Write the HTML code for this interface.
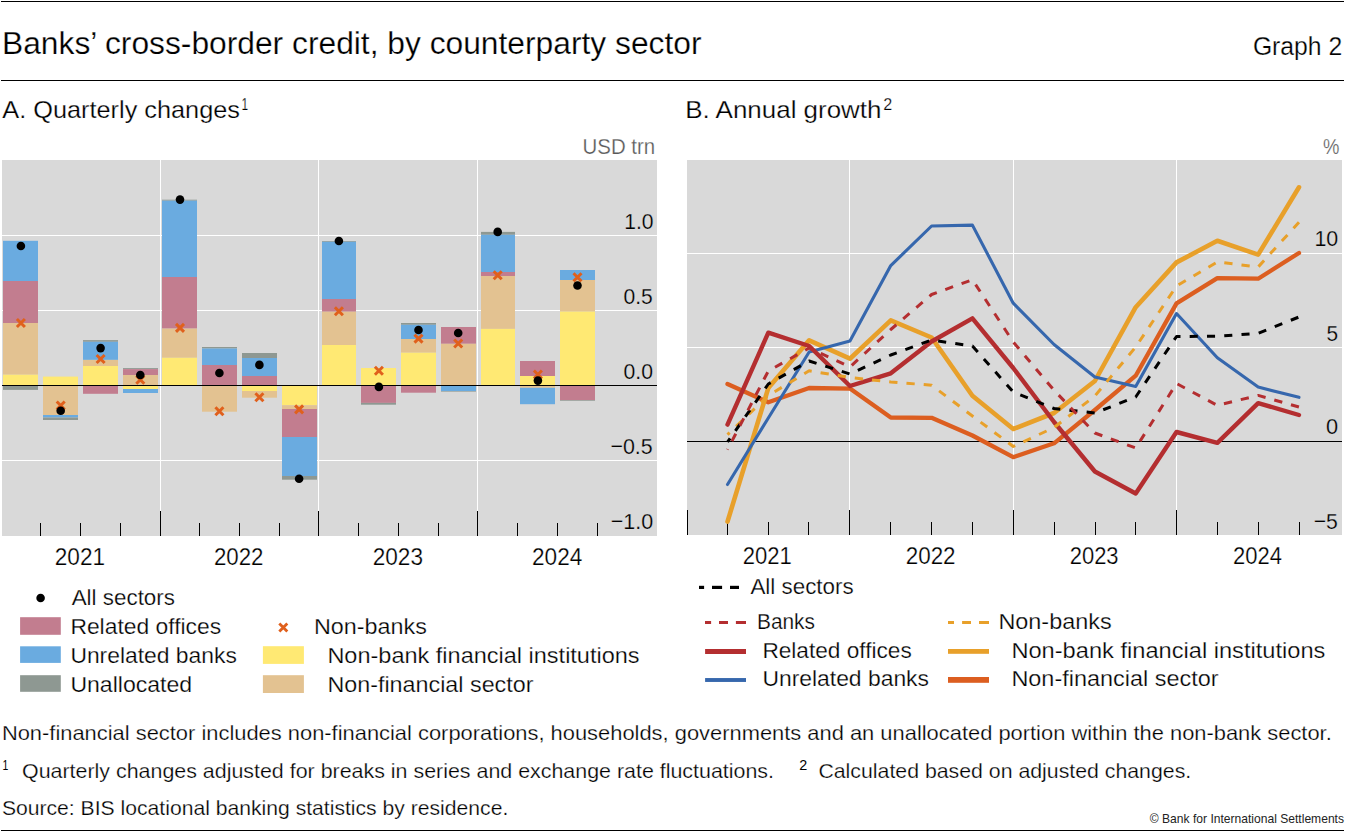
<!DOCTYPE html>
<html><head><meta charset="utf-8"><style>
html,body{margin:0;padding:0;background:#fff;width:1345px;height:832px;overflow:hidden}
svg{display:block;font-family:"Liberation Sans", sans-serif}
</style></head><body>
<svg width="1345" height="832" viewBox="0 0 1345 832">
<rect x="1" y="1" width="1343" height="1" fill="#000"/>
<text x="2.00" y="53.70" font-size="31" fill="#000" stroke="#fff" stroke-width="0.25" textLength="699.50" lengthAdjust="spacingAndGlyphs" >Banks’ cross-border credit, by counterparty sector</text>
<text x="1252.90" y="55.00" font-size="26.5" fill="#000" stroke="#fff" stroke-width="0.25" textLength="89.30" lengthAdjust="spacingAndGlyphs" >Graph 2</text>
<rect x="1" y="80" width="1343" height="1" fill="#000"/>
<text x="2.30" y="118.40" font-size="24.6" fill="#000" stroke="#fff" stroke-width="0.25" textLength="237.70" lengthAdjust="spacingAndGlyphs" >A. Quarterly changes</text>
<text x="241.60" y="110.00" font-size="16.7" fill="#000" stroke="#fff" stroke-width="0.25" textLength="6.60" lengthAdjust="spacingAndGlyphs" >1</text>
<text x="685.30" y="117.80" font-size="24.6" fill="#000" stroke="#fff" stroke-width="0.25" textLength="196.20" lengthAdjust="spacingAndGlyphs" >B. Annual growth</text>
<text x="883.30" y="110.00" font-size="16.7" fill="#000" stroke="#fff" stroke-width="0.25" textLength="9.00" lengthAdjust="spacingAndGlyphs" >2</text>
<rect x="2" y="160" width="655" height="376" fill="#d9d9d9"/>
<rect x="2" y="235" width="655" height="1" fill="#fff"/>
<rect x="2" y="310" width="655" height="1" fill="#fff"/>
<rect x="2" y="460" width="655" height="1" fill="#fff"/>
<rect x="160" y="160" width="1" height="376" fill="#fff"/>
<rect x="318" y="160" width="1" height="376" fill="#fff"/>
<rect x="477" y="160" width="1" height="376" fill="#fff"/>
<rect x="3" y="240.8" width="35" height="40.20" fill="#6aabe0"/>
<rect x="3" y="281" width="35" height="42.00" fill="#c27d8f"/>
<rect x="3" y="323" width="35" height="51.70" fill="#e3c291"/>
<rect x="3" y="374.7" width="35" height="10.80" fill="#ffe973"/>
<rect x="3" y="385.5" width="35" height="4.40" fill="#8e9892"/>
<rect x="43" y="376.6" width="35" height="8.90" fill="#ffe973"/>
<rect x="43" y="385.5" width="35" height="29.50" fill="#e3c291"/>
<rect x="43" y="415" width="35" height="2.50" fill="#6aabe0"/>
<rect x="43" y="417.5" width="35" height="2.50" fill="#8e9892"/>
<rect x="83" y="340.1" width="35" height="1.70" fill="#8e9892"/>
<rect x="83" y="341.8" width="35" height="18.10" fill="#6aabe0"/>
<rect x="83" y="359.9" width="35" height="6.10" fill="#e3c291"/>
<rect x="83" y="366" width="35" height="19.50" fill="#ffe973"/>
<rect x="83" y="385.5" width="35" height="8.30" fill="#c27d8f"/>
<rect x="123" y="368.1" width="35" height="1.00" fill="#8e9892"/>
<rect x="123" y="369.1" width="35" height="5.90" fill="#c27d8f"/>
<rect x="123" y="375" width="35" height="10.50" fill="#e3c291"/>
<rect x="123" y="385.5" width="35" height="3.50" fill="#ffe973"/>
<rect x="123" y="389" width="35" height="4.00" fill="#6aabe0"/>
<rect x="162" y="199.7" width="35" height="1.00" fill="#8e9892"/>
<rect x="162" y="200.7" width="35" height="76.30" fill="#6aabe0"/>
<rect x="162" y="277" width="35" height="51.60" fill="#c27d8f"/>
<rect x="162" y="328.6" width="35" height="29.20" fill="#e3c291"/>
<rect x="162" y="357.8" width="35" height="27.70" fill="#ffe973"/>
<rect x="202" y="347" width="35" height="1.50" fill="#8e9892"/>
<rect x="202" y="348.5" width="35" height="16.50" fill="#6aabe0"/>
<rect x="202" y="365" width="35" height="20.50" fill="#c27d8f"/>
<rect x="202" y="385.5" width="35" height="26.20" fill="#e3c291"/>
<rect x="242" y="353" width="35" height="5.00" fill="#8e9892"/>
<rect x="242" y="358" width="35" height="18.00" fill="#6aabe0"/>
<rect x="242" y="376" width="35" height="9.50" fill="#c27d8f"/>
<rect x="242" y="385.5" width="35" height="5.50" fill="#ffe973"/>
<rect x="242" y="391" width="35" height="6.70" fill="#e3c291"/>
<rect x="282" y="385.5" width="35" height="19.70" fill="#ffe973"/>
<rect x="282" y="405.2" width="35" height="3.80" fill="#e3c291"/>
<rect x="282" y="409" width="35" height="28.00" fill="#c27d8f"/>
<rect x="282" y="437" width="35" height="39.00" fill="#6aabe0"/>
<rect x="282" y="476" width="35" height="3.70" fill="#8e9892"/>
<rect x="322" y="241" width="34" height="0.80" fill="#8e9892"/>
<rect x="322" y="241.8" width="34" height="57.20" fill="#6aabe0"/>
<rect x="322" y="299" width="34" height="12.70" fill="#c27d8f"/>
<rect x="322" y="311.7" width="34" height="33.30" fill="#e3c291"/>
<rect x="322" y="345" width="34" height="40.50" fill="#ffe973"/>
<rect x="361" y="368" width="35" height="17.50" fill="#ffe973"/>
<rect x="361" y="385.5" width="35" height="17.40" fill="#c27d8f"/>
<rect x="361" y="402.9" width="35" height="1.80" fill="#8e9892"/>
<rect x="401" y="323" width="35" height="1.80" fill="#8e9892"/>
<rect x="401" y="324.8" width="35" height="14.20" fill="#6aabe0"/>
<rect x="401" y="339" width="35" height="13.70" fill="#e3c291"/>
<rect x="401" y="352.7" width="35" height="32.80" fill="#ffe973"/>
<rect x="401" y="385.5" width="35" height="7.20" fill="#c27d8f"/>
<rect x="441" y="327" width="35" height="16.80" fill="#c27d8f"/>
<rect x="441" y="343.8" width="35" height="41.70" fill="#e3c291"/>
<rect x="441" y="385.5" width="35" height="5.50" fill="#6aabe0"/>
<rect x="441" y="391" width="35" height="0.60" fill="#8e9892"/>
<rect x="481" y="231.9" width="34" height="2.90" fill="#8e9892"/>
<rect x="481" y="234.8" width="34" height="37.20" fill="#6aabe0"/>
<rect x="481" y="272" width="34" height="4.00" fill="#c27d8f"/>
<rect x="481" y="276" width="34" height="52.90" fill="#e3c291"/>
<rect x="481" y="328.9" width="34" height="56.60" fill="#ffe973"/>
<rect x="520" y="361" width="35" height="15.00" fill="#c27d8f"/>
<rect x="520" y="376" width="35" height="9.50" fill="#ffe973"/>
<rect x="520" y="385.5" width="35" height="2.30" fill="#e3c291"/>
<rect x="520" y="387.8" width="35" height="16.40" fill="#6aabe0"/>
<rect x="560" y="270" width="35" height="10.00" fill="#6aabe0"/>
<rect x="560" y="280" width="35" height="31.60" fill="#e3c291"/>
<rect x="560" y="311.6" width="35" height="73.90" fill="#ffe973"/>
<rect x="560" y="385.5" width="35" height="14.60" fill="#c27d8f"/>
<rect x="560" y="400.1" width="35" height="0.70" fill="#8e9892"/>
<rect x="2" y="385" width="655" height="1" fill="#000"/>
<path d="M16.90,319.00L24.90,327.00M24.90,319.00L16.90,327.00" stroke="#e0601c" stroke-width="3.0" fill="none"/>
<path d="M56.70,401.50L64.70,409.50M64.70,401.50L56.70,409.50" stroke="#e0601c" stroke-width="3.0" fill="none"/>
<path d="M96.60,355.00L104.60,363.00M104.60,355.00L96.60,363.00" stroke="#e0601c" stroke-width="3.0" fill="none"/>
<path d="M136.30,375.70L144.30,383.70M144.30,375.70L136.30,383.70" stroke="#e0601c" stroke-width="3.0" fill="none"/>
<path d="M176.00,323.90L184.00,331.90M184.00,323.90L176.00,331.90" stroke="#e0601c" stroke-width="3.0" fill="none"/>
<path d="M215.40,407.20L223.40,415.20M223.40,407.20L215.40,415.20" stroke="#e0601c" stroke-width="3.0" fill="none"/>
<path d="M255.40,393.30L263.40,401.30M263.40,393.30L255.40,401.30" stroke="#e0601c" stroke-width="3.0" fill="none"/>
<path d="M295.10,405.40L303.10,413.40M303.10,405.40L295.10,413.40" stroke="#e0601c" stroke-width="3.0" fill="none"/>
<path d="M334.90,307.30L342.90,315.30M342.90,307.30L334.90,315.30" stroke="#e0601c" stroke-width="3.0" fill="none"/>
<path d="M374.90,366.70L382.90,374.70M382.90,366.70L374.90,374.70" stroke="#e0601c" stroke-width="3.0" fill="none"/>
<path d="M414.50,334.60L422.50,342.60M422.50,334.60L414.50,342.60" stroke="#e0601c" stroke-width="3.0" fill="none"/>
<path d="M454.20,339.50L462.20,347.50M462.20,339.50L454.20,347.50" stroke="#e0601c" stroke-width="3.0" fill="none"/>
<path d="M493.70,271.30L501.70,279.30M501.70,271.30L493.70,279.30" stroke="#e0601c" stroke-width="3.0" fill="none"/>
<path d="M533.90,370.50L541.90,378.50M541.90,370.50L533.90,378.50" stroke="#e0601c" stroke-width="3.0" fill="none"/>
<path d="M573.50,273.30L581.50,281.30M581.50,273.30L573.50,281.30" stroke="#e0601c" stroke-width="3.0" fill="none"/>
<circle cx="20.9" cy="246" r="4.3" fill="#000"/>
<circle cx="60.7" cy="410.8" r="4.3" fill="#000"/>
<circle cx="100.6" cy="348.1" r="4.3" fill="#000"/>
<circle cx="140.3" cy="375" r="4.3" fill="#000"/>
<circle cx="180" cy="199.6" r="4.3" fill="#000"/>
<circle cx="219.4" cy="373" r="4.3" fill="#000"/>
<circle cx="259.4" cy="364.9" r="4.3" fill="#000"/>
<circle cx="299.1" cy="478.8" r="4.3" fill="#000"/>
<circle cx="338.9" cy="241" r="4.3" fill="#000"/>
<circle cx="378.9" cy="386.9" r="4.3" fill="#000"/>
<circle cx="418.5" cy="330" r="4.3" fill="#000"/>
<circle cx="458.2" cy="333" r="4.3" fill="#000"/>
<circle cx="497.7" cy="231.9" r="4.3" fill="#000"/>
<circle cx="537.9" cy="380.6" r="4.3" fill="#000"/>
<circle cx="577.5" cy="285.5" r="4.3" fill="#000"/>
<rect x="40" y="523" width="1" height="13" fill="#000"/>
<rect x="80" y="523" width="1" height="13" fill="#000"/>
<rect x="120" y="523" width="1" height="13" fill="#000"/>
<rect x="160" y="511" width="1" height="25" fill="#000"/>
<rect x="199" y="523" width="1" height="13" fill="#000"/>
<rect x="239" y="523" width="1" height="13" fill="#000"/>
<rect x="279" y="523" width="1" height="13" fill="#000"/>
<rect x="318" y="511" width="1" height="25" fill="#000"/>
<rect x="358" y="523" width="1" height="13" fill="#000"/>
<rect x="398" y="523" width="1" height="13" fill="#000"/>
<rect x="438" y="523" width="1" height="13" fill="#000"/>
<rect x="477" y="511" width="1" height="25" fill="#000"/>
<rect x="517" y="523" width="1" height="13" fill="#000"/>
<rect x="557" y="523" width="1" height="13" fill="#000"/>
<rect x="597" y="523" width="1" height="13" fill="#000"/>
<text x="624.20" y="228.80" font-size="22.6" fill="#000" stroke="#d9d9d9" stroke-width="0.25" textLength="29.30" lengthAdjust="spacingAndGlyphs" >1.0</text>
<text x="623.50" y="303.50" font-size="22.6" fill="#000" stroke="#d9d9d9" stroke-width="0.25" textLength="29.30" lengthAdjust="spacingAndGlyphs" >0.5</text>
<text x="623.50" y="378.60" font-size="22.6" fill="#000" stroke="#d9d9d9" stroke-width="0.25" textLength="29.40" lengthAdjust="spacingAndGlyphs" >0.0</text>
<text x="610.40" y="453.50" font-size="22.6" fill="#000" stroke="#d9d9d9" stroke-width="0.25" textLength="42.30" lengthAdjust="spacingAndGlyphs" >−0.5</text>
<text x="610.80" y="529.00" font-size="22.6" fill="#000" stroke="#d9d9d9" stroke-width="0.25" textLength="42.40" lengthAdjust="spacingAndGlyphs" >−1.0</text>
<text x="582.50" y="154.00" font-size="21.8" fill="#595959" stroke="#fff" stroke-width="0.25" textLength="72.70" lengthAdjust="spacingAndGlyphs" >USD trn</text>
<text x="54.80" y="564.70" font-size="23.8" fill="#000" stroke="#fff" stroke-width="0.25" textLength="50.30" lengthAdjust="spacingAndGlyphs" >2021</text>
<text x="213.90" y="564.70" font-size="23.8" fill="#000" stroke="#fff" stroke-width="0.25" textLength="49.60" lengthAdjust="spacingAndGlyphs" >2022</text>
<text x="372.70" y="564.70" font-size="23.8" fill="#000" stroke="#fff" stroke-width="0.25" textLength="50.30" lengthAdjust="spacingAndGlyphs" >2023</text>
<text x="532.00" y="564.70" font-size="23.8" fill="#000" stroke="#fff" stroke-width="0.25" textLength="50.30" lengthAdjust="spacingAndGlyphs" >2024</text>
<rect x="687" y="160" width="655.00" height="375.00" fill="#d9d9d9"/>
<rect x="687" y="253" width="655" height="1" fill="#fff"/>
<rect x="687" y="347" width="655" height="1" fill="#fff"/>
<rect x="849" y="160" width="1" height="375" fill="#fff"/>
<rect x="1013" y="160" width="1" height="375" fill="#fff"/>
<rect x="1176" y="160" width="1" height="375" fill="#fff"/>
<rect x="687" y="441" width="655" height="1" fill="#000"/>
<rect x="687" y="510" width="1" height="25" fill="#000"/>
<rect x="727" y="522" width="1" height="13" fill="#000"/>
<rect x="768" y="522" width="1" height="13" fill="#000"/>
<rect x="808" y="522" width="1" height="13" fill="#000"/>
<rect x="849" y="510" width="1" height="25" fill="#000"/>
<rect x="890" y="522" width="1" height="13" fill="#000"/>
<rect x="931" y="522" width="1" height="13" fill="#000"/>
<rect x="972" y="522" width="1" height="13" fill="#000"/>
<rect x="1013" y="510" width="1" height="25" fill="#000"/>
<rect x="1054" y="522" width="1" height="13" fill="#000"/>
<rect x="1095" y="522" width="1" height="13" fill="#000"/>
<rect x="1135" y="522" width="1" height="13" fill="#000"/>
<rect x="1176" y="510" width="1" height="25" fill="#000"/>
<rect x="1217" y="522" width="1" height="13" fill="#000"/>
<rect x="1258" y="522" width="1" height="13" fill="#000"/>
<rect x="1299" y="522" width="1" height="13" fill="#000"/>
<g>
<polyline points="727.50,384.00 768.32,402.30 809.14,388.00 849.96,388.60 890.78,417.50 931.60,417.80 972.42,435.50 1013.24,457.20 1054.06,443.30 1094.88,410.00 1135.70,375.70 1176.52,303.40 1217.34,278.10 1258.16,278.70 1298.98,253.00" fill="none" stroke="#dc5e20" stroke-width="4.3" stroke-linejoin="round" stroke-linecap="round"/>
<polyline points="727.50,521.60 768.32,388.00 809.14,340.30 849.96,358.70 890.78,320.40 931.60,337.50 972.42,395.80 1013.24,429.00 1054.06,413.00 1094.88,381.00 1135.70,307.20 1176.52,262.40 1217.34,240.80 1258.16,254.60 1298.98,187.30" fill="none" stroke="#e8a02a" stroke-width="4.6" stroke-linejoin="round" stroke-linecap="round"/>
<polyline points="727.50,484.50 768.32,418.00 809.14,352.00 849.96,341.00 890.78,265.60 931.60,226.00 972.42,225.10 1013.24,303.20 1054.06,344.50 1094.88,377.00 1135.70,386.50 1176.52,313.50 1217.34,357.70 1258.16,387.10 1298.98,397.30" fill="none" stroke="#3667ad" stroke-width="3.1" stroke-linejoin="round" stroke-linecap="round"/>
<polyline points="727.50,424.60 768.32,332.70 809.14,346.00 849.96,386.00 890.78,373.30 931.60,341.50 972.42,318.30 1013.24,368.00 1054.06,422.00 1094.88,471.50 1135.70,493.50 1176.52,432.00 1217.34,442.90 1258.16,403.10 1298.98,415.00" fill="none" stroke="#b42e30" stroke-width="4.4" stroke-linejoin="round" stroke-linecap="round"/>
<polyline points="727.50,434.60 768.32,395.50 809.14,370.80 849.96,377.50 890.78,382.00 931.60,385.20 972.42,416.00 1013.24,446.50 1054.06,427.50 1094.88,396.00 1135.70,347.00 1176.52,286.00 1217.34,262.00 1258.16,267.00 1298.98,222.30" fill="none" stroke="#e8a02a" stroke-width="3.0" stroke-linejoin="round" stroke-dasharray="8.3 9.01" stroke-dashoffset="5.34"/>
<polyline points="727.50,442.00 768.32,384.00 809.14,361.00 849.96,374.00 890.78,355.00 931.60,340.00 972.42,346.00 1013.24,392.00 1054.06,408.50 1094.88,413.00 1135.70,397.00 1176.52,336.50 1217.34,336.20 1258.16,333.30 1298.98,317.00" fill="none" stroke="#000000" stroke-width="3.0" stroke-linejoin="round" stroke-dasharray="8.1 9.19" stroke-dashoffset="3.59"/>
<polyline points="727.50,449.60 768.32,371.00 809.14,348.00 849.96,367.00 890.78,329.50 931.60,294.50 972.42,279.70 1013.24,342.00 1054.06,390.30 1094.88,433.00 1135.70,448.00 1176.52,383.50 1217.34,405.40 1258.16,395.40 1298.98,407.00" fill="none" stroke="#b42e30" stroke-width="3.0" stroke-linejoin="round" stroke-dasharray="8.3 9.03" stroke-dashoffset="7.73"/>
</g>
<text x="1314.40" y="246.40" font-size="22.6" fill="#000" stroke="#d9d9d9" stroke-width="0.25" textLength="23.80" lengthAdjust="spacingAndGlyphs" >10</text>
<text x="1326.40" y="340.50" font-size="22.6" fill="#000" stroke="#d9d9d9" stroke-width="0.25" textLength="11.60" lengthAdjust="spacingAndGlyphs" >5</text>
<text x="1326.10" y="434.30" font-size="22.6" fill="#000" stroke="#d9d9d9" stroke-width="0.25" textLength="12.10" lengthAdjust="spacingAndGlyphs" >0</text>
<text x="1313.70" y="528.60" font-size="22.6" fill="#000" stroke="#d9d9d9" stroke-width="0.25" textLength="24.20" lengthAdjust="spacingAndGlyphs" >−5</text>
<text x="1323.00" y="153.75" font-size="22.5" fill="#595959" stroke="#fff" stroke-width="0.25" textLength="16.40" lengthAdjust="spacingAndGlyphs" >%</text>
<text x="742.70" y="564.00" font-size="23.8" fill="#000" stroke="#fff" stroke-width="0.25" textLength="49.10" lengthAdjust="spacingAndGlyphs" >2021</text>
<text x="905.70" y="564.00" font-size="23.8" fill="#000" stroke="#fff" stroke-width="0.25" textLength="49.90" lengthAdjust="spacingAndGlyphs" >2022</text>
<text x="1069.70" y="564.00" font-size="23.8" fill="#000" stroke="#fff" stroke-width="0.25" textLength="48.90" lengthAdjust="spacingAndGlyphs" >2023</text>
<text x="1233.00" y="564.00" font-size="23.8" fill="#000" stroke="#fff" stroke-width="0.25" textLength="48.90" lengthAdjust="spacingAndGlyphs" >2024</text>
<circle cx="40.6" cy="598" r="4.3" fill="#000"/>
<text x="71.70" y="605.20" font-size="22" fill="#000" stroke="#fff" stroke-width="0.25" textLength="103.30" lengthAdjust="spacingAndGlyphs" >All sectors</text>
<rect x="20.1" y="617.2" width="40.7" height="17.6" fill="#c27d8f"/>
<text x="70.40" y="634.10" font-size="22" fill="#000" stroke="#fff" stroke-width="0.25" textLength="150.80" lengthAdjust="spacingAndGlyphs" >Related offices</text>
<rect x="20.1" y="646.3" width="40.7" height="16.6" fill="#6aabe0"/>
<text x="70.40" y="662.50" font-size="22" fill="#000" stroke="#fff" stroke-width="0.25" textLength="166.50" lengthAdjust="spacingAndGlyphs" >Unrelated banks</text>
<rect x="20.1" y="675.2" width="40.7" height="16.6" fill="#8e9892"/>
<text x="70.40" y="691.80" font-size="22" fill="#000" stroke="#fff" stroke-width="0.25" textLength="121.70" lengthAdjust="spacingAndGlyphs" >Unallocated</text>
<path d="M279.30,623.40L287.30,631.40M287.30,623.40L279.30,631.40" stroke="#e0601c" stroke-width="2.8" fill="none"/>
<text x="314.00" y="634.10" font-size="22" fill="#000" stroke="#fff" stroke-width="0.25" textLength="112.80" lengthAdjust="spacingAndGlyphs" >Non-banks</text>
<rect x="262.9" y="646.2" width="41" height="17.7" fill="#ffe973"/>
<text x="327.40" y="662.50" font-size="22" fill="#000" stroke="#fff" stroke-width="0.25" textLength="312.20" lengthAdjust="spacingAndGlyphs" >Non-bank financial institutions</text>
<rect x="262.9" y="675.2" width="41" height="17.8" fill="#e3c291"/>
<text x="327.40" y="691.80" font-size="22" fill="#000" stroke="#fff" stroke-width="0.25" textLength="206.10" lengthAdjust="spacingAndGlyphs" >Non-financial sector</text>
<rect x="699" y="585.80" width="5.10" height="3.2" fill="#000"/>
<rect x="712" y="585.80" width="10.10" height="3.2" fill="#000"/>
<rect x="730" y="585.80" width="9.00" height="3.2" fill="#000"/>
<text x="750.40" y="593.70" font-size="22" fill="#000" stroke="#fff" stroke-width="0.25" textLength="103.30" lengthAdjust="spacingAndGlyphs" >All sectors</text>
<rect x="705" y="621.00" width="6.10" height="3.0" fill="#b42e30"/>
<rect x="719" y="621.00" width="9.00" height="3.0" fill="#b42e30"/>
<rect x="735.9" y="621.00" width="10.10" height="3.0" fill="#b42e30"/>
<text x="757.00" y="628.80" font-size="22" fill="#000" stroke="#fff" stroke-width="0.25" textLength="58.00" lengthAdjust="spacingAndGlyphs" >Banks</text>
<rect x="705.1" y="649.00" width="40.90" height="5" fill="#b42e30"/>
<text x="762.40" y="657.70" font-size="22" fill="#000" stroke="#fff" stroke-width="0.25" textLength="149.40" lengthAdjust="spacingAndGlyphs" >Related offices</text>
<rect x="705.1" y="678.05" width="40.90" height="3.9" fill="#3667ad"/>
<text x="762.40" y="686.40" font-size="22" fill="#000" stroke="#fff" stroke-width="0.25" textLength="166.60" lengthAdjust="spacingAndGlyphs" >Unrelated banks</text>
<rect x="948" y="621.00" width="6.00" height="3.0" fill="#e8a02a"/>
<rect x="962.1" y="621.00" width="8.90" height="3.0" fill="#e8a02a"/>
<rect x="979" y="621.00" width="10.00" height="3.0" fill="#e8a02a"/>
<text x="998.40" y="628.80" font-size="22" fill="#000" stroke="#fff" stroke-width="0.25" textLength="113.20" lengthAdjust="spacingAndGlyphs" >Non-banks</text>
<rect x="948" y="649.00" width="41.00" height="4.8" fill="#e8a02a"/>
<text x="1011.40" y="657.70" font-size="22" fill="#000" stroke="#fff" stroke-width="0.25" textLength="314.00" lengthAdjust="spacingAndGlyphs" >Non-bank financial institutions</text>
<rect x="948" y="677.00" width="41.00" height="5.8" fill="#dc5e20"/>
<text x="1011.40" y="686.40" font-size="22" fill="#000" stroke="#fff" stroke-width="0.25" textLength="207.10" lengthAdjust="spacingAndGlyphs" >Non-financial sector</text>
<text x="1.90" y="739.70" font-size="20.6" fill="#000" stroke="#fff" stroke-width="0.25" textLength="1329.90" lengthAdjust="spacingAndGlyphs" >Non-financial sector includes non-financial corporations, households, governments and an unallocated portion within the non-bank sector.</text>
<text x="2.40" y="769.80" font-size="13.8" fill="#000" textLength="5.80" lengthAdjust="spacingAndGlyphs" >1</text>
<text x="22.00" y="777.90" font-size="20.6" fill="#000" stroke="#fff" stroke-width="0.25" textLength="752.00" lengthAdjust="spacingAndGlyphs" >Quarterly changes adjusted for breaks in series and exchange rate fluctuations.</text>
<text x="799.20" y="769.80" font-size="13.8" fill="#000" textLength="8.00" lengthAdjust="spacingAndGlyphs" >2</text>
<text x="818.40" y="777.90" font-size="20.6" fill="#000" stroke="#fff" stroke-width="0.25" textLength="372.80" lengthAdjust="spacingAndGlyphs" >Calculated based on adjusted changes.</text>
<text x="1.90" y="815.20" font-size="20.6" fill="#000" stroke="#fff" stroke-width="0.25" textLength="506.40" lengthAdjust="spacingAndGlyphs" >Source: BIS locational banking statistics by residence.</text>
<text x="1149.80" y="823.00" font-size="12.8" fill="#222" textLength="194.20" lengthAdjust="spacingAndGlyphs" >© Bank for International Settlements</text>
<rect x="1" y="830" width="1343" height="1" fill="#000"/>
</svg>
</body></html>
